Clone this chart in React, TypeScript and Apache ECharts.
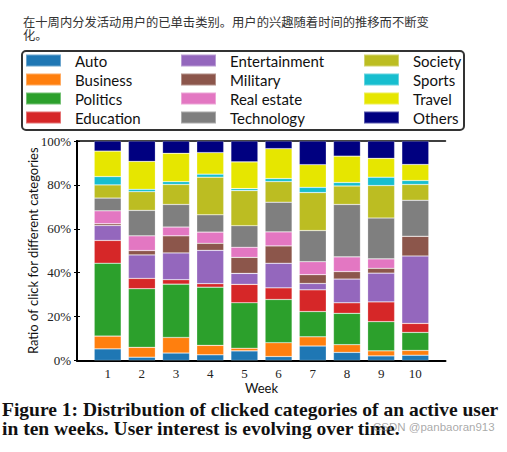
import React, { useEffect, useRef } from "react";
import * as echarts from "echarts";

const weeks = ["1", "2", "3", "4", "5", "6", "7", "8", "9", "10"];
const categories = [
  "Auto", "Business", "Politics", "Education",
  "Entertainment", "Military", "Real estate", "Technology",
  "Society", "Sports", "Travel", "Others",
];
const colors = [
  "#1f77b4", "#ff7f0e", "#2ca02c", "#d62728",
  "#9467bd", "#8c564b", "#e377c2", "#7f7f7f",
  "#bcbd22", "#17becf", "#e6e600", "#000080",
];
const auto = [5.3, 1.5, 3.4, 2.6, 4.4, 1.8, 6.6, 3.7, 2.1, 2.4];
const business = [5.8, 4.5, 7.1, 4.3, 1.2, 6.3, 4.2, 3.5, 2.3, 2.2];
const politics = [33.2, 26.7, 24.3, 26.5, 20.7, 19.7, 11.5, 14.3, 13.3, 8.2];
const education = [10.4, 4.7, 2.0, 1.6, 8.4, 5.3, 9.9, 4.8, 9.0, 4.1];
const entertainment = [6.8, 10.7, 12.2, 15.2, 5.0, 11.2, 2.9, 10.8, 13.1, 30.7];
const military = [0.8, 2.0, 7.8, 3.2, 7.3, 7.9, 4.0, 3.4, 2.2, 9.0];
const realEstate = [5.9, 6.7, 4.0, 5.1, 4.6, 6.4, 5.9, 6.7, 4.3, 0];
const technology = [5.8, 11.6, 10.3, 7.9, 9.8, 13.5, 14.2, 23.9, 18.6, 16.4];
const society = [6.0, 8.5, 9.1, 17.1, 16.0, 9.4, 17.3, 8.4, 14.8, 7.2];
const sports = [3.8, 1.1, 1.3, 1.4, 0.9, 1.4, 2.4, 1.6, 3.8, 1.8];
const travel = [11.6, 12.7, 12.9, 9.8, 12.2, 13.6, 10.3, 12.0, 8.6, 7.3];
const others = [4.6, 9.3, 5.6, 5.3, 9.5, 3.5, 10.8, 6.9, 7.9, 10.7];
const seriesValues = [
  auto, business, politics, education,
  entertainment, military, realEstate, technology,
  society, sports, travel, others,
];

const titleText = "在十周内分发活动用户的已单击类别。用户的兴趣随着时间的推移而不断变\n化。";
const captionLine1 = "Figure 1: Distribution of clicked categories of an active user";
const captionLine2 = "in ten weeks. User interest is evolving over time.";

export default function App() {
  const ref = useRef<HTMLDivElement>(null);
  useEffect(() => {
    document.body.style.margin = "0";
    if (!ref.current) return;
    const chart = echarts.init(ref.current, undefined, { renderer: "svg" });
    const legendCol = (items: string[], left: number) => ({
      orient: "vertical",
      left,
      top: 51,
      padding: 0,
      itemGap: 0,
      itemWidth: 35,
      itemHeight: 12,
      icon: "rect",
      data: items,
      selectedMode: false,
      textStyle: {
        fontFamily: "Lato",
        fontSize: 15,
        lineHeight: 19,
        color: "#111",
        padding: [0, 0, 0, 9],
      },
    });
    const frameGrid = { left: 77, right: 61.5, top: 141, bottom: 91.5, outerBoundsMode: "none" };
    const barGrid = { left: 90.6, right: 74.6, top: 141, bottom: 91.5, outerBoundsMode: "none" };
    chart.setOption({
      animation: false,
      color: colors,
      legend: [
        legendCol(categories.slice(0, 4), 25),
        legendCol(categories.slice(4, 8), 180),
        legendCol(categories.slice(8, 12), 363),
      ],
      grid: [frameGrid, barGrid],
      xAxis: [
        {
          gridIndex: 0,
          type: "value",
          min: 0,
          max: 1,
          axisLine: { show: true, onZero: false, lineStyle: { color: "#000", width: 2 } },
          axisTick: { show: false },
          axisLabel: { show: false },
          splitLine: { show: false },
        },
        {
          gridIndex: 0,
          type: "value",
          position: "top",
          min: 0,
          max: 1,
          axisLine: { show: true, onZero: false, lineStyle: { color: "#000", width: 1.5 } },
          axisTick: { show: false },
          axisLabel: { show: false },
          splitLine: { show: false },
        },
        {
          gridIndex: 1,
          type: "category",
          data: weeks,
          name: "Week",
          nameLocation: "middle",
          nameGap: 21,
          nameMoveOverlap: false,
          nameTextStyle: { fontFamily: "Lato", fontSize: 13, color: "#111" },
          axisLine: { show: false },
          axisTick: { show: false },
          splitLine: { show: false },
          axisLabel: {
            fontFamily: "Liberation Serif",
            fontSize: 13,
            color: "#222",
            margin: 6,
          },
        },
      ],
      yAxis: [
        {
          gridIndex: 0,
          type: "value",
          min: 0,
          max: 100,
          interval: 20,
          name: "Ratio of click for different categories",
          nameLocation: "middle",
          nameGap: 38,
          nameMoveOverlap: false,
          nameTextStyle: { fontFamily: "Lato", fontSize: 13, color: "#111" },
          axisLine: { show: true, lineStyle: { color: "#000", width: 2 } },
          axisTick: { show: true, inside: true, length: 3, lineStyle: { color: "#000" } },
          splitLine: { show: false },
          axisLabel: {
            formatter: "{value}%",
            fontFamily: "Liberation Serif",
            fontSize: 13,
            color: "#222",
            margin: 6,
          },
        },
        {
          gridIndex: 0,
          type: "value",
          position: "right",
          min: 0,
          max: 100,
          interval: 20,
          axisLine: { show: true, lineStyle: { color: "#000", width: 2 } },
          axisTick: { show: true, inside: true, length: 3, lineStyle: { color: "#000" } },
          axisLabel: { show: false },
          splitLine: { show: false },
        },
        {
          gridIndex: 1,
          type: "value",
          min: 0,
          max: 100,
          show: false,
        },
      ],
      series: categories.map((name, i) => ({
        name,
        type: "bar",
        stack: "total",
        xAxisIndex: 2,
        yAxisIndex: 2,
        barWidth: 27,
        itemStyle: {
          color: colors[i],
          borderColor: "rgba(255,255,255,0.35)",
          borderWidth: 0.6,
        },
        data: seriesValues[i],
      })),
      graphic: [
        {
          type: "text",
          left: 23,
          top: 15,
          style: {
            text: titleText,
            fontFamily: "Noto Sans CJK SC",
            fontSize: 12.3,
            lineHeight: 13,
            fill: "#333",
          },
        },
        {
          type: "rect",
          shape: { x: 22, y: 51, width: 442, height: 79, r: 4 },
          style: { fill: "none", stroke: "#333", lineWidth: 2 },
          z: 10,
        },
        {
          type: "text",
          x: 2,
          y: 409,
          style: {
            text: captionLine1,
            fontFamily: "Liberation Serif",
            fontWeight: "bold",
            fontSize: 19.5,
            fill: "#111",
            verticalAlign: "middle",
          },
        },
        {
          type: "text",
          x: 2,
          y: 428,
          style: {
            text: captionLine2,
            fontFamily: "Liberation Serif",
            fontWeight: "bold",
            fontSize: 19.5,
            fill: "#111",
            verticalAlign: "middle",
          },
        },
        {
          type: "text",
          x: 373,
          y: 427,
          style: {
            text: "CSDN @panbaoran913",
            fontFamily: "Liberation Sans",
            fontSize: 11.5,
            fill: "rgba(140,140,140,0.75)",
            verticalAlign: "middle",
          },
          z: 20,
        },
      ],
    });
    return () => chart.dispose();
  }, []);
  return <div ref={ref} style={{ width: 507, height: 452 }} />;
}
